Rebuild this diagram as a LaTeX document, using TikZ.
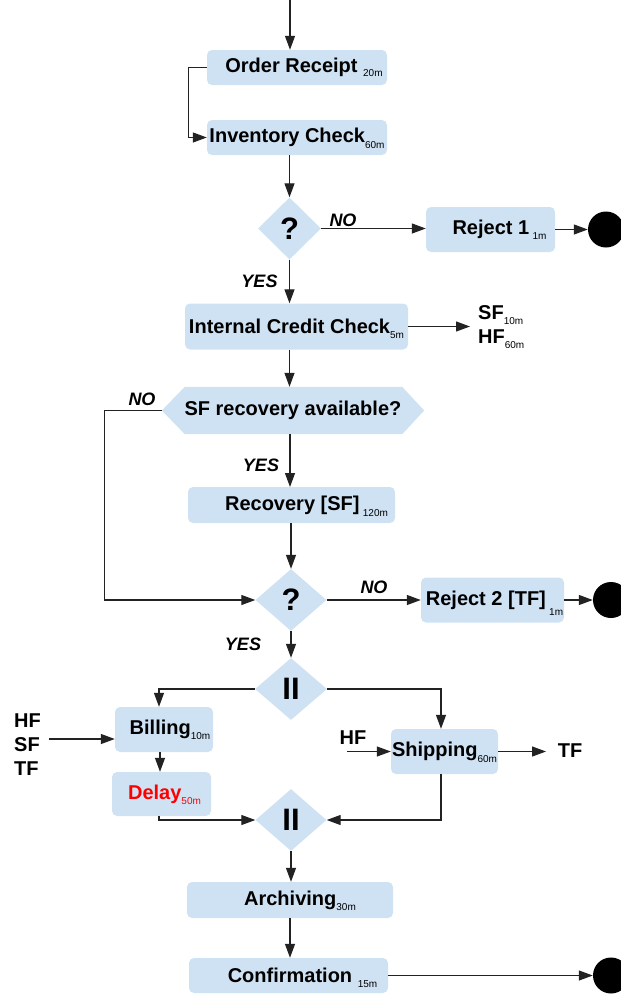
\documentclass[tikz,border=0pt]{standalone}
\usepackage{fontspec}
\setmainfont{Liberation Sans}
\usetikzlibrary{arrows.meta,shapes.geometric,backgrounds}
\definecolor{boxblue}{HTML}{CFE2F3}
\definecolor{linegrey}{HTML}{222222}
\newcommand{\dur}[2][4pt]{\raisebox{-#1}[0pt][0pt]{\fontsize{10}{10}\selectfont\mdseries #2}}
\newcommand{\pushr}[1]{\hspace*{#1}}
\begin{document}
\begin{tikzpicture}[x=1pt,y=-1pt,
  procbox/.style={fill=boxblue, rounded corners=5pt, inner sep=0pt, font=\fontsize{20}{22}\selectfont\bfseries},
  decision/.style={diamond, fill=boxblue, inner sep=0pt, aspect=1, font=\fontsize{31}{32}\selectfont\bfseries},
  lbl/.style={font=\fontsize{18}{20}\selectfont\bfseries\itshape, inner sep=0pt},
  txt/.style={font=\fontsize{20}{24}\selectfont\bfseries, inner sep=0pt, align=left},
  stopdot/.style={circle, fill=black, minimum size=36pt, inner sep=0pt},
  flow/.style={draw=linegrey, line width=1.2pt, -{Triangle[length=14pt,width=10pt]}}
]
\useasboundingbox (0,0) rectangle (621,994);
\clip (0,0) rectangle (621,994);

% nodes
\coordinate (start) at (290,-2);
\node[procbox, minimum width=180pt, minimum height=35pt] (order) at (297,67.5) {\pushr{14pt}Order Receipt \dur{20m}};
\node[procbox, minimum width=180pt, minimum height=35pt] (inv) at (297,137.5) {Inventory Check\dur[6pt]{60m}};
\node[decision, minimum width=63pt, minimum height=62pt] (q1) at (289.5,228.5) {?};
\node[procbox, minimum width=129pt, minimum height=45pt] (rej1) at (490.5,229.5) {\pushr{18pt}Reject 1\,\dur[5pt]{1m}};
\node[stopdot] (e1) at (606,229.5) {};
\node[procbox, minimum width=223pt, minimum height=46pt] (icc) at (296.5,326.5) {Internal Credit Check\dur[5pt]{5m}};
\node[txt, anchor=west] (sfhf) at (478,325) {SF\dur[5pt]{10m}\\HF\dur[5pt]{60m}};
\coordinate (sfhfin) at (470,326.5);

\node[inner sep=0pt, minimum width=262pt, minimum height=47pt, font=\fontsize{20}{22}\selectfont\bfseries] (sfq) at (293,410.5) {SF recovery available?};
\begin{scope}[on background layer]
\fill[boxblue] (sfq.west) -- ([xshift=23pt]sfq.north west) -- ([xshift=-22pt]sfq.north east) -- (sfq.east) -- ([xshift=-22pt]sfq.south east) -- ([xshift=23pt]sfq.south west) -- cycle;
\end{scope}

\node[procbox, minimum width=207pt, minimum height=36pt] (rec) at (291.5,505) {\pushr{30pt}Recovery [SF]\,\dur[6pt]{120m}};
\node[decision, minimum width=71pt, minimum height=62pt] (q2) at (291,600) {?};
\node[procbox, minimum width=143pt, minimum height=45pt] (rej2) at (492.5,600) {\pushr{4pt}Reject 2 [TF]\,\dur[10pt]{1m}};
\node[stopdot] (e2) at (611,600) {};

\node[decision, minimum width=72pt, minimum height=62pt] (par1) at (291,689) {II};
\node[decision, minimum width=71pt, minimum height=62pt] (par2) at (291,820) {II};
\node[procbox, minimum width=98pt, minimum height=45pt] (bill) at (164,729.5) {\pushr{12pt}Billing\dur[5pt]{10m}};
\node[procbox, minimum width=99pt, minimum height=44pt, text=red] (delay) at (161.5,794) {\pushr{6pt}Delay\dur[5pt]{50m}};
\node[procbox, minimum width=107pt, minimum height=45pt] (ship) at (444.5,751.5) {Shipping\dur[6pt]{60m}};

\node[txt, anchor=west] (inputs) at (14,745) {HF\\SF\\TF};
\coordinate (billin) at (49,739);
\node[txt] (hfin) at (353,738) {HF};
\coordinate (shipin) at (347,751.5);
\coordinate (shipout) at (546,751.5);
\node[txt] (tfout) at (570,751) {TF};

\node[procbox, minimum width=206pt, minimum height=36pt] (arch) at (290,900) {\pushr{20pt}Archiving\dur[5pt]{30m}};
\node[procbox, minimum width=199pt, minimum height=35pt] (conf) at (288.5,975.5) {\pushr{28pt}Confirmation \dur[5pt]{15m}};
\node[stopdot] (e3) at (611,975.5) {};

% labels
\node[lbl] (no1) at (343,220) {NO};
\node[lbl] (yes1) at (259.5,281) {YES};
\node[lbl] (no2) at (142,399) {NO};
\node[lbl] (yes2) at (261,465) {YES};
\node[lbl] (no3) at (374,587) {NO};
\node[lbl] (yes3) at (243,644) {YES};

% connectors
\draw[flow] (start) -- (start |- order.north);
\draw[flow] (order.west) -- ++(-18,0) |- (inv.west);
\draw[flow] (q1.north |- inv.south) -- (q1.north);
\draw[flow] (q1.east) -- (q1.east -| rej1.west);
\draw[flow] (rej1.east) -- (e1.west);
\draw[flow] (q1.south) -- (q1.south |- icc.north);
\draw[flow] (icc.east) -- (sfhfin);
\draw[flow] (q1.south |- icc.south) -- (q1.south |- sfq.north);
\draw[flow] (sfq.west) -- ++(-57,0) |- (q2.west);
\draw[flow] (290,434) -- (290,487);
\draw[flow] (q2.north |- rec.south) -- (q2.north);
\draw[flow] (q2.east) -- (q2.east -| rej2.west);
\draw[flow] (rej2.east) -- (e2.west);
\draw[flow] (q2.south) -- (par1.north);
\draw[flow] (par1.west) -| ([xshift=-5pt]bill.north);
\draw[flow] (par1.east) -| ([xshift=-3.5pt]ship.north);
\draw[flow] ([xshift=-4pt]bill.south) -- ([xshift=-4pt]bill.south |- delay.north);
\draw[flow] ([xshift=-2.5pt]delay.south) |- (par2.west);
\draw[flow] ([xshift=-3.5pt]ship.south) |- (par2.east);
\draw[flow] (billin) -- (billin -| bill.west);
\draw[flow] (shipin) -- (ship.west);
\draw[flow] (ship.east) -- (shipout);
\draw[flow] (par2.south) -- (par2.south |- arch.north);
\draw[flow] (arch.south) -- (arch.south |- conf.north);
\draw[flow] (conf.east) -- (e3.west);
\end{tikzpicture}
\end{document}
